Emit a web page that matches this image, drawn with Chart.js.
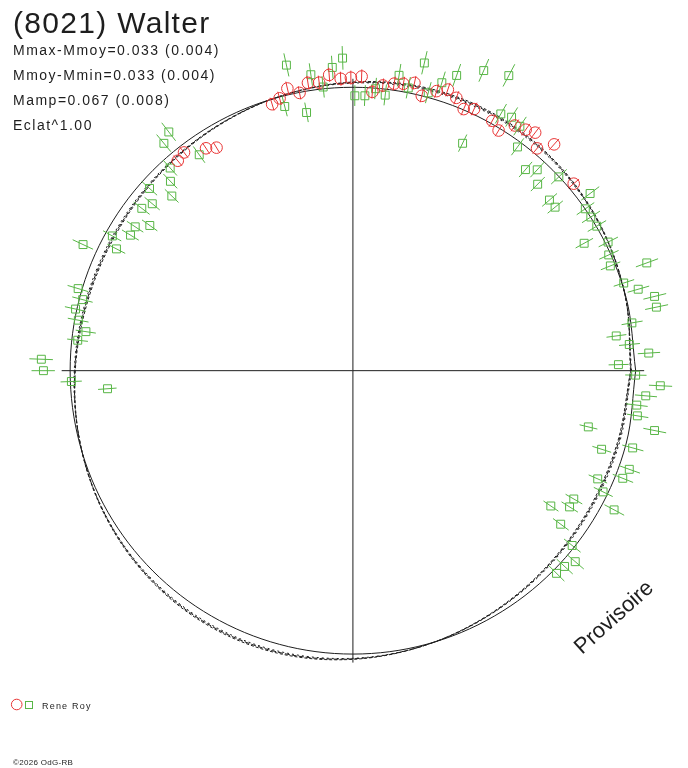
<!DOCTYPE html>
<html>
<head>
<meta charset="utf-8">
<title>(8021) Walter</title>
<script src="https://cdn.jsdelivr.net/npm/chart.js@4.4.1/dist/chart.umd.min.js"></script>
<style>
html,body{margin:0;padding:0;background:#fff;overflow:hidden;}
#wrap{position:relative;width:688px;height:768px;}
</style>
</head>
<body>
<div id="wrap"><canvas id="chart"></canvas></div>
<script>
// phase angle in degrees, magnitude offset from the mean (negative = brighter, further out)
const greenPhase = [102.3, 91.9, 93.9, 98.1, 96.0, 104.5, 100.2, 89.6, 87.5, 83.3, 85.4, 81.1, 78.9, 76.9, 74.8, 72.8, 70.6, 66.4, 62.1, 64.2, 60.0, 57.9, 55.6, 53.6, 49.3, 47.4, 45.2, 43.2, 40.9, 38.9, 36.7, 34.8, 32.8, 30.6, 26.7, 28.8,
  127.7, 129.8, 125.5, 132.1, 134.0, 136.1, 138.2, 140.3, 142.5, 144.5, 146.6, 148.7, 150.8, 152.8, 155.0, 163.4, 165.3, 167.5, 169.6, 171.7, 173.7, 177.9, 180.0, 182.2, 184.2,
  24.3, 22.1, 20.1, 17.9, 15.9, 13.8, 11.8, 9.7, 7.5, 5.4, 3.4, 1.3, 359.1, 357.2, 355.1, 353.1, 351.0, 346.6, 348.8, 342.5, 344.6, 340.4, 338.3, 336.2, 334.2, 332.0, 329.9, 325.7, 327.9, 323.6, 321.5, 319.4, 317.3, 315.2];
const greenMag = [-0.107, -0.107, -0.076, -0.058, -0.007, 0.041, 0.084, 0.033, 0.032, 0.023, 0.002, -0.058, -0.018, -0.118, -0.017, -0.067, -0.108, -0.157, -0.178, 0.125, -0.049, -0.059, -0.048, 0.021, 0.072, 0.041, 0.082, 0.001, 0.091, 0.092, -0.049, -0.001, -0.001, -0.002, -0.011, 0.075,
  -0.068, -0.047, 0.072, 0.040, 0.080, 0.128, 0.039, 0.088, 0.066, 0.136, 0.088, 0.090, 0.028, 0.067, -0.056, -0.015, 0.013, -0.005, 0.014, 0.051, 0.023, -0.106, -0.098, 0.004, 0.151,
  0.008, 0.019, -0.110, -0.007, -0.052, -0.102, -0.100, -0.001, 0.068, 0.020, -0.051, 0.068, 0.000, -0.092, -0.042, -0.012, -0.020, 0.169, -0.091, 0.088, -0.028, -0.040, -0.029, 0.060, 0.019, -0.049, 0.111, 0.180, 0.109, 0.099, 0.010, -0.038, -0.020, -0.016];
const greenErr = 0.041;

const redPhase = [106.9, 105.1, 103.1, 100.9, 98.9, 96.7, 94.6, 92.4, 90.4, 88.3, 86.0, 84.0, 81.8, 80.0, 77.9, 75.9, 73.3, 71.3, 69.2, 67.0, 65.1, 60.8, 58.7, 56.5, 54.3, 52.5, 50.3, 48.3, 40.2, 127.8, 129.9, 123.5, 121.5];
const redMag = [0.019, 0.005, -0.024, 0.002, -0.030, -0.025, -0.050, -0.033, -0.036, -0.041, 0.015, -0.013, -0.025, -0.030, -0.041, 0.000, -0.032, -0.050, -0.032, -0.003, -0.019, -0.011, 0.009, -0.040, -0.050, -0.062, -0.021, -0.073, -0.024, 0.028, 0.038, 0.066, 0.087];
const redErr = 0.026;

// fitted curve (best, +err, -err) read every 15 degrees
const fitPhase = [0, 15, 30, 45, 60, 75, 90, 105, 120, 135, 150, 165, 180, 195, 210, 225, 240, 255, 270, 285, 300, 315, 330, 345];
const fitMag = [0.018, 0.002, -0.014, -0.027, -0.033, -0.030, -0.018, -0.002, 0.014, 0.027, 0.033, 0.030, 0.018, 0.002, -0.014, -0.027, -0.033, -0.030, -0.018, -0.002, 0.014, 0.027, 0.033, 0.030];
const fitMagHi = [0.020, 0.002, -0.016, -0.030, -0.037, -0.034, -0.020, -0.002, 0.016, 0.030, 0.037, 0.034, 0.020, 0.002, -0.016, -0.030, -0.037, -0.034, -0.020, -0.002, 0.016, 0.030, 0.037, 0.034];
const fitMagLo = [0.016, 0.002, -0.013, -0.024, -0.029, -0.026, -0.016, -0.002, 0.013, 0.024, 0.029, 0.026, 0.016, 0.002, -0.013, -0.024, -0.029, -0.026, -0.016, -0.002, 0.013, 0.024, 0.029, 0.026];
const meanMag = 0;

const statLines = ["Mmax-Mmoy=0.033 (0.004)", "Mmoy-Mmin=0.033 (0.004)", "Mamp=0.067 (0.008)", "Eclat^1.00"];
const observer = "Rene Roy";

const GREEN = "#58b646";
const RED = "#e83434";
const INK = "#1e1e1e";
const AXIS_LEN = 1.03;

function toXY(phase, mag){
const r = Math.pow(10, -0.4 * mag);
const a = phase * Math.PI / 180;
return {x: r * Math.cos(a), y: r * Math.sin(a)};
}

function points(phases, mags){
return phases.map((p, i) => Object.assign(toXY(p, mags[i]), {phase: p, mag: mags[i]}));
}

function closedCurve(phases, mags){
const pts = phases.map((p, i) => toXY(p, Array.isArray(mags) ? mags[i] : mags));
pts.push(pts[0]);
return pts;
}

function curve(data, dash){
return {
data, showLine: true, pointRadius: 0, borderColor: INK, borderWidth: 1,
borderDash: dash, tension: 0.34, fill: false, order: 2
};
}

const errorBars = {
id: "errorBars",
afterDatasetsDraw(chart){
const {ctx, scales: {x, y}} = chart;
chart.data.datasets.forEach(ds => {
if(!ds.errMag) return;
ctx.save();
ctx.strokeStyle = ds.borderColor;
ctx.lineWidth = 1;
ctx.beginPath();
ds.data.forEach(d => {
const a = toXY(d.phase, d.mag - ds.errMag);
const b = toXY(d.phase, d.mag + ds.errMag);
ctx.moveTo(x.getPixelForValue(a.x), y.getPixelForValue(a.y));
ctx.lineTo(x.getPixelForValue(b.x), y.getPixelForValue(b.y));
});
ctx.stroke();
ctx.restore();
});
}
};

const labels = {
id: "labels",
afterDraw(chart){
const ctx = chart.ctx;
const font = '"Liberation Sans", Arial, sans-serif';
ctx.save();
ctx.fillStyle = INK;
ctx.textBaseline = "alphabetic";
ctx.letterSpacing = "1.3px";
ctx.font = "30px " + font;
ctx.fillText("(8021) Walter", 13, 33);
ctx.letterSpacing = "1.5px";
ctx.font = "14px " + font;
statLines.forEach((t, i) => ctx.fillText(t, 13, 55 + i * 25));

ctx.letterSpacing = "1.2px";
ctx.font = "9px " + font;
ctx.fillText(observer, 42, 709);
ctx.letterSpacing = "0.3px";
ctx.font = "8px " + font;
ctx.fillText("\u00a92026 OdG-RB", 13, 765);

ctx.lineWidth = 1;
ctx.strokeStyle = RED;
ctx.beginPath();
ctx.arc(16.7, 704.5, 5.3, 0, Math.PI * 2);
ctx.stroke();
ctx.strokeStyle = GREEN;
ctx.strokeRect(25.5, 701.5, 7, 7);

ctx.letterSpacing = "0px";
ctx.translate(582, 655);
ctx.rotate(-42 * Math.PI / 180);
ctx.font = "22px " + font;
ctx.fillText("Provisoire", 0, 0);
ctx.restore();
}
};

new Chart(document.getElementById("chart"), {
type: "scatter",
data: {
datasets: [
{
label: observer, data: points(redPhase, redMag), pointStyle: "circle", pointRadius: 5.8,
borderColor: RED, backgroundColor: "rgba(0,0,0,0)", borderWidth: 1, errMag: redErr, order: 0
},
{
label: observer, data: points(greenPhase, greenMag), pointStyle: "rect", pointRadius: 5.6,
borderColor: GREEN, backgroundColor: "rgba(0,0,0,0)", borderWidth: 1, errMag: greenErr, order: 1
},
curve(closedCurve(fitPhase, fitMag), [5, 2]),
curve(closedCurve(fitPhase, fitMagHi), [3, 2]),
curve(closedCurve(fitPhase, fitMagLo), [2, 3]),
curve(closedCurve(fitPhase, meanMag), []),
{
data: [{x: -AXIS_LEN, y: 0}, {x: AXIS_LEN, y: 0}], showLine: true, pointRadius: 0,
borderColor: INK, borderWidth: 1, order: 3
},
{
data: [{x: 0, y: -AXIS_LEN}, {x: 0, y: AXIS_LEN}], showLine: true, pointRadius: 0,
borderColor: INK, borderWidth: 1, order: 3
}
]
},
options: {
responsive: true,
maintainAspectRatio: false,
animation: false,
layout: {padding: 0},
plugins: {legend: {display: false}, tooltip: {enabled: false}},
scales: {
x: {type: "linear", min: -1.224, max: 1.161, display: false},
y: {type: "linear", min: -1.378, max: 1.284, display: false}
}
},
plugins: [errorBars, labels]
});
</script>
</body>
</html>
